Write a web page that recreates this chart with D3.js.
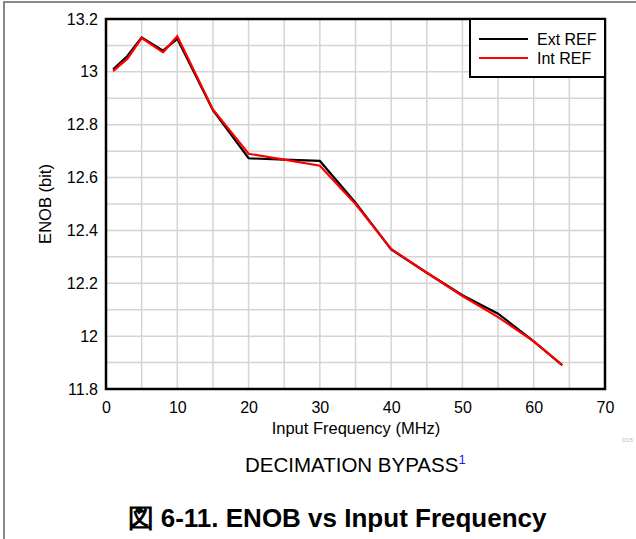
<!DOCTYPE html>
<head>
<meta charset="utf-8">
<style>
body { margin: 0; background: #fff; }
text { font-family: "Liberation Sans", Arial, sans-serif; fill: #000; }
.grid line { stroke: #d4d4d4; stroke-width: 1.5px; }
path.ext { fill: none; stroke: #000; stroke-width: 2.2px; }
path.int { fill: none; stroke: #ff0000; stroke-width: 2.2px; }
</style>
</head>
<body>
<script src="https://cdn.jsdelivr.net/npm/d3@7"></script>
<script>

var freq = [1, 3, 5, 8, 10, 15, 20, 25, 30, 35, 40, 45, 50, 55, 60, 64];
var extRef = [13.01, 13.06, 13.13, 13.08, 13.125, 12.855, 12.673, 12.668, 12.663, 12.505, 12.328, 12.24, 12.155, 12.085, 11.98, 11.89];
var intRef = [13.003, 13.05, 13.128, 13.074, 13.135, 12.858, 12.69, 12.668, 12.645, 12.5, 12.33, 12.24, 12.152, 12.072, 11.98, 11.89];
var xTicks = [0, 10, 20, 30, 40, 50, 60, 70];
var yTicks = [11.8, 12, 12.2, 12.4, 12.6, 12.8, 13, 13.2];
var seriesNames = ["Ext REF", "Int REF"];
var seriesColors = ["#000", "#ff0000"];

var width = 636, height = 539;
var mL = 106, mR = 605, mT = 19, mB = 389;

var svg = d3.select("body").append("svg")
    .attr("width", width)
    .attr("height", height);

// outer frame (top and left only)
svg.append("line").attr("x1", 3).attr("y1", 2).attr("x2", 636).attr("y2", 2)
    .attr("stroke", "#888").attr("stroke-width", 2);
svg.append("line").attr("x1", 4).attr("y1", 1).attr("x2", 4).attr("y2", 539)
    .attr("stroke", "#888").attr("stroke-width", 2);

var x = d3.scaleLinear().domain([0, 70]).range([mL, mR]);
var y = d3.scaleLinear().domain([11.8, 13.2]).range([mB, mT]);

// grid
var grid = svg.append("g").attr("class", "grid");
grid.selectAll(".gx")
    .data(d3.range(5, 70, 5))
    .enter().append("line")
    .attr("x1", function(d) { return x(d); })
    .attr("x2", function(d) { return x(d); })
    .attr("y1", mT).attr("y2", mB);
grid.selectAll(".gy")
    .data(d3.range(1, 14).map(function(i) { return 11.8 + i * 0.1; }))
    .enter().append("line")
    .attr("y1", function(d) { return y(d); })
    .attr("y2", function(d) { return y(d); })
    .attr("x1", mL).attr("x2", mR);

// tick labels
var xAxis = d3.axisBottom(x).tickValues(xTicks).tickSize(0).tickPadding(13);
svg.append("g").attr("transform", "translate(0," + mB + ")")
    .call(xAxis)
    .call(function(g) { g.select(".domain").remove(); })
    .selectAll("text").style("font-size", "16px").attr("fill", "#000");

var yAxis = d3.axisLeft(y).tickValues(yTicks).tickSize(0).tickPadding(8)
    .tickFormat(function(d) { return d3.format("~g")(d); });
svg.append("g").attr("transform", "translate(" + mL + ",0)")
    .call(yAxis)
    .call(function(g) { g.select(".domain").remove(); })
    .selectAll("text").style("font-size", "16px").attr("fill", "#000");

// lines
var line = d3.line()
    .x(function(d) { return x(d[0]); })
    .y(function(d) { return y(d[1]); });

svg.append("path").attr("class", "ext")
    .attr("d", line(d3.zip(freq, extRef)));
svg.append("path").attr("class", "int")
    .attr("d", line(d3.zip(freq, intRef)));

// plot border
svg.append("rect")
    .attr("x", mL).attr("y", mT)
    .attr("width", mR - mL).attr("height", mB - mT)
    .attr("fill", "none").attr("stroke", "#000").attr("stroke-width", 2.5);

// legend
var lg = svg.append("g");
lg.append("rect")
    .attr("x", 470).attr("y", mT).attr("width", mR - 470).attr("height", 58)
    .attr("fill", "#fff").attr("stroke", "#000").attr("stroke-width", 2);
seriesNames.forEach(function(name, i) {
  var ly = 39 + i * 19;
  lg.append("line").attr("x1", 479).attr("x2", 528)
      .attr("y1", ly).attr("y2", ly)
      .attr("stroke", seriesColors[i]).attr("stroke-width", 1.8);
  lg.append("text").attr("x", 537).attr("y", ly + 6)
      .style("font-size", "16px").text(name);
});

// axis titles
svg.append("text")
    .attr("x", 356).attr("y", 434)
    .attr("text-anchor", "middle").style("font-size", "16.5px")
    .text("Input Frequency (MHz)");
svg.append("text")
    .attr("transform", "translate(51," + ((mT + mB) / 2) + ") rotate(-90)")
    .attr("text-anchor", "middle").style("font-size", "16.5px")
    .text("ENOB (bit)");

svg.append("text")
    .attr("x", 622).attr("y", 442)
    .style("font-size", "6px").style("fill", "#bbb")
    .text("D15");

// captions
var cap = svg.append("text")
    .attr("x", 245).attr("y", 472)
    .style("font-size", "20.5px");
cap.append("tspan").text("DECIMATION BYPASS");
cap.append("tspan").attr("dy", -8).style("font-size", "13px").style("fill", "#1a1aff").text("1");

svg.append("text")
    .attr("x", 337).attr("y", 527)
    .attr("text-anchor", "middle").style("font-size", "26px").style("font-weight", "bold")
    .text("図 6-11. ENOB vs Input Frequency");

</script>
</body>
</html>
